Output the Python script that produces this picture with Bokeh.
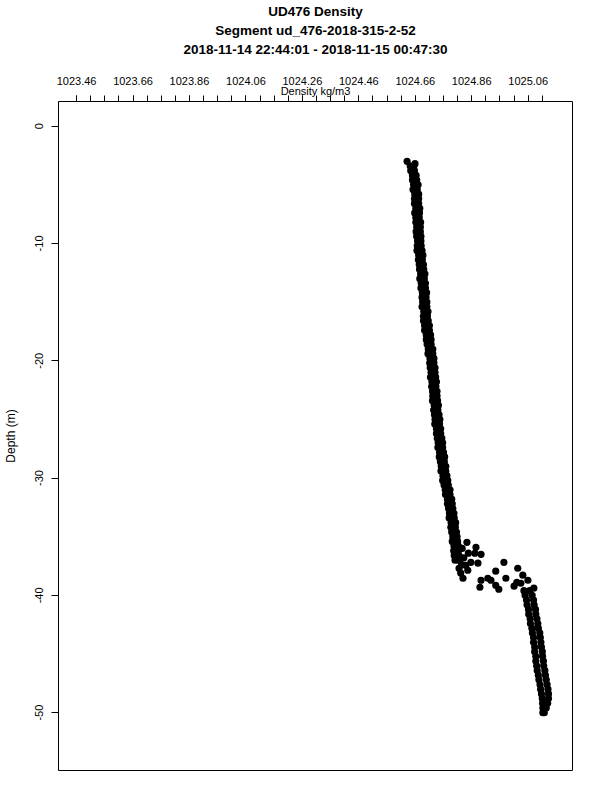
from bokeh.plotting import figure
from bokeh.models import Range1d, FixedTicker, Title
from bokeh.embed import file_html
from bokeh.resources import INLINE

title_lines = ["UD476 Density", "Segment ud_476-2018-315-2-52", "2018-11-14 22:44:01 - 2018-11-15 00:47:30"]
x_label = "Density kg/m3"
y_label = "Depth (m)"

x_major = [1023.46, 1023.66, 1023.86, 1024.06, 1024.26, 1024.46, 1024.66, 1024.86, 1025.06]
x_major_labels = ["1023.46", "1023.66", "1023.86", "1024.06", "1024.26", "1024.46", "1024.66", "1024.86", "1025.06"]
x_minor = [1023.46, 1023.51, 1023.56, 1023.61, 1023.66, 1023.71, 1023.76, 1023.81, 1023.86, 1023.91,
           1023.96, 1024.01, 1024.06, 1024.11, 1024.16, 1024.21, 1024.26, 1024.31, 1024.36, 1024.41,
           1024.46, 1024.51, 1024.56, 1024.61, 1024.66, 1024.71, 1024.76, 1024.81, 1024.86, 1024.91,
           1024.96, 1025.01, 1025.06, 1025.11]
y_major = [0, -10, -20, -30, -40, -50]
y_major_labels = ["0", "-10", "-20", "-30", "-40", "-50"]

# top of the cast
top_depth = [-3.0, -3.2]
top_density = [1024.631, 1024.659]

# upper mixed layer band: each depth has a left and a right sample
upper_depth = [-3.4, -3.8, -4.2, -4.6, -5.0, -5.4, -5.8, -6.2, -6.6, -7.0, -7.4, -7.8, -8.2, -8.6, -9.0,
               -9.4, -9.8, -10.2, -10.6, -11.0, -11.4, -11.8, -12.2, -12.6, -13.0, -13.4, -13.8, -14.2,
               -14.6, -15.0, -15.4, -15.8, -16.2, -16.6, -17.0, -17.4, -17.8, -18.2, -18.6, -19.0, -19.4,
               -19.8, -20.2, -20.6, -21.0, -21.4, -21.8, -22.2, -22.6, -23.0, -23.4, -23.8, -24.2, -24.6,
               -25.0, -25.4, -25.8, -26.2, -26.6, -27.0, -27.4, -27.8, -28.2, -28.6, -29.0, -29.4, -29.8,
               -30.2, -30.6, -31.0, -31.4, -31.8, -32.2, -32.6, -33.0, -33.4, -33.8, -34.2, -34.6, -35.0,
               -35.4, -35.8, -36.2, -36.6, -37.0]
upper_left = [1024.642, 1024.644, 1024.650, 1024.650, 1024.654, 1024.652, 1024.658, 1024.657, 1024.657,
              1024.662, 1024.658, 1024.662, 1024.662, 1024.665, 1024.663, 1024.665, 1024.668, 1024.667,
              1024.666, 1024.672, 1024.671, 1024.674, 1024.675, 1024.679, 1024.676, 1024.681, 1024.680,
              1024.685, 1024.684, 1024.686, 1024.684, 1024.690, 1024.689, 1024.689, 1024.693, 1024.693,
              1024.699, 1024.699, 1024.702, 1024.706, 1024.705, 1024.712, 1024.711, 1024.713, 1024.716,
              1024.714, 1024.719, 1024.718, 1024.721, 1024.722, 1024.721, 1024.727, 1024.725, 1024.728,
              1024.730, 1024.729, 1024.735, 1024.735, 1024.738, 1024.741, 1024.740, 1024.746, 1024.745,
              1024.749, 1024.752, 1024.751, 1024.758, 1024.757, 1024.762, 1024.766, 1024.767, 1024.774,
              1024.774, 1024.778, 1024.781, 1024.780, 1024.787, 1024.786, 1024.789, 1024.793, 1024.791,
              1024.797, 1024.796, 1024.798, 1024.801]
upper_right = [1024.655, 1024.657, 1024.663, 1024.665, 1024.670, 1024.667, 1024.672, 1024.672, 1024.672,
               1024.676, 1024.675, 1024.674, 1024.679, 1024.678, 1024.678, 1024.680, 1024.680, 1024.681,
               1024.684, 1024.687, 1024.685, 1024.689, 1024.690, 1024.694, 1024.692, 1024.696, 1024.696,
               1024.700, 1024.698, 1024.701, 1024.701, 1024.705, 1024.703, 1024.706, 1024.710, 1024.710,
               1024.714, 1024.716, 1024.716, 1024.722, 1024.722, 1024.726, 1024.726, 1024.730, 1024.730,
               1024.732, 1024.735, 1024.733, 1024.737, 1024.737, 1024.739, 1024.742, 1024.740, 1024.744,
               1024.747, 1024.746, 1024.750, 1024.750, 1024.754, 1024.757, 1024.757, 1024.760, 1024.764,
               1024.763, 1024.768, 1024.768, 1024.772, 1024.775, 1024.777, 1024.783, 1024.783, 1024.789,
               1024.791, 1024.793, 1024.797, 1024.798, 1024.803, 1024.802, 1024.806, 1024.808, 1024.810,
               1024.813, 1024.813, 1024.815, 1024.818]

# pycnocline: scattered samples
mid_depth = [-35.48, -35.90, -36.41, -36.50, -37.18, -37.26, -37.44, -37.69, -37.86, -38.54, -38.71,
             -39.31, -38.54, -38.71, -37.94, -37.18, -39.14, -39.48, -38.54, -37.69, -38.28, -38.88,
             -39.22, -38.97, -38.71, -39.39, -36.0, -36.8, -37.4, -36.4, -38.1, -37.0]
mid_density = [1024.843, 1024.875, 1024.871, 1024.893, 1024.857, 1024.882, 1024.839, 1024.815, 1024.846,
               1024.829, 1024.893, 1024.889, 1024.917, 1024.928, 1024.945, 1024.974, 1024.945, 1024.956,
               1024.981, 1025.023, 1025.041, 1025.020, 1025.010, 1025.034, 1025.059, 1025.080,
               1024.826, 1024.832, 1024.824, 1024.848, 1024.821, 1024.812]

# lower layer band
lower_depth = [-39.6, -40.0, -40.4, -40.8, -41.2, -41.6, -42.0, -42.4, -42.8, -43.2, -43.6, -44.0, -44.4,
               -44.8, -45.2, -45.6, -46.0, -46.4, -46.8, -47.2, -47.6, -48.0, -48.4, -48.8, -49.2, -49.6,
               -50.0]
lower_left = [1025.045, 1025.049, 1025.054, 1025.056, 1025.061, 1025.062, 1025.067, 1025.068, 1025.073,
              1025.075, 1025.079, 1025.079, 1025.083, 1025.083, 1025.087, 1025.087, 1025.090, 1025.092,
              1025.096, 1025.098, 1025.102, 1025.104, 1025.107, 1025.110, 1025.111, 1025.112, 1025.112]
lower_right = [1025.065, 1025.074, 1025.079, 1025.081, 1025.086, 1025.087, 1025.091, 1025.094, 1025.096,
               1025.101, 1025.103, 1025.105, 1025.107, 1025.110, 1025.111, 1025.114, 1025.115, 1025.119,
               1025.121, 1025.124, 1025.127, 1025.130, 1025.132, 1025.132, 1025.129, 1025.124, 1025.117]

FONT = "Liberation Sans"

p = figure(title=None, width=592, height=780,
           min_border_left=57, min_border_right=20, min_border_top=100, min_border_bottom=10,
           x_range=Range1d(1023.396, 1025.217), y_range=Range1d(-54.93, 2.10),
           x_axis_location="above", y_axis_location="left",
           output_backend="svg", toolbar_location=None,
           background_fill_color="white", border_fill_color="white")

p.outline_line_color = "black"
p.outline_line_width = 1
p.xgrid.visible = False
p.ygrid.visible = False

xa = p.xaxis[0]
xa.ticker = FixedTicker(ticks=x_major, minor_ticks=x_minor)
xa.major_label_overrides = {v: s for v, s in zip(x_major, x_major_labels)}
xa.axis_line_color = None
xa.major_tick_in = 0
xa.major_tick_out = 6
xa.minor_tick_in = 0
xa.minor_tick_out = 6
xa.major_tick_line_color = "black"
xa.minor_tick_line_color = "black"
xa.major_label_standoff = 11
xa.major_label_text_font = FONT
xa.major_label_text_font_size = "11px"
xa.major_label_text_color = "black"
xa.axis_label = x_label
xa.axis_label_text_font = FONT
xa.axis_label_text_font_style = "normal"
xa.axis_label_text_font_size = "11px"
xa.axis_label_text_color = "black"
xa.axis_label_standoff = -23

ya = p.yaxis[0]
ya.ticker = FixedTicker(ticks=y_major, minor_ticks=[])
ya.major_label_overrides = {v: s for v, s in zip(y_major, y_major_labels)}
ya.axis_line_color = None
ya.major_tick_in = 0
ya.major_tick_out = 7
ya.major_tick_line_color = "black"
ya.minor_tick_line_color = None
ya.major_label_orientation = "vertical"
ya.major_label_standoff = 8
ya.major_label_text_font = FONT
ya.major_label_text_font_size = "11px"
ya.major_label_text_color = "black"
ya.axis_label = y_label
ya.axis_label_text_font = FONT
ya.axis_label_text_font_style = "normal"
ya.axis_label_text_font_size = "12px"
ya.axis_label_text_color = "black"
ya.axis_label_standoff = 15

# spacer between the axis and the third title line
p.add_layout(Title(text=" ", text_font=FONT, text_font_size="13.5px", standoff=7), "above")
for text in reversed(title_lines):
    p.add_layout(Title(text=text, align="center", text_font=FONT, text_font_style="bold",
                       text_font_size="13.5px", text_color="black", standoff=2), "above")

kw = dict(marker="circle", size=7.2, fill_color="black", line_color="black", line_width=0)
p.scatter(top_density, top_depth, **kw)
p.scatter(upper_left, upper_depth, **kw)
p.scatter(upper_right, upper_depth, **kw)
p.scatter(mid_density, mid_depth, **kw)
p.scatter(lower_left, lower_depth, **kw)
p.scatter(lower_right, lower_depth, **kw)

open("out.html", "w").write(file_html(p, INLINE))
